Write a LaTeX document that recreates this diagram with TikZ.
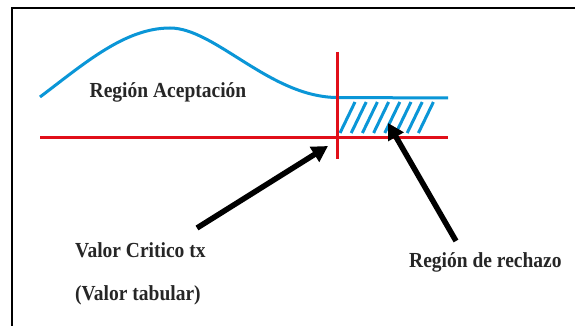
\documentclass[tikz,border=0pt]{standalone}
\usepackage{fontspec}
\setmainfont{Liberation Serif}
\usetikzlibrary{arrows.meta}
\definecolor{curveblue}{RGB}{10,150,215}
\definecolor{axisred}{RGB}{225,15,25}
\newcommand{\tallbox}[1]{\scalebox{1}[1.1]{#1}}
\begin{document}
\begin{tikzpicture}[x=1pt,y=-1pt,
  frame/.style={line width=2.2pt,black},
  curve/.style={line width=3pt,curveblue},
  hatch/.style={line width=3pt,curveblue},
  redline/.style={line width=3pt,axisred},
  pointer/.style={line width=5.5pt,black,-{Triangle[length=16pt,width=17pt]}},
  lbl/.style={font=\fontsize{19.5}{23}\selectfont\bfseries,inner sep=0pt,text=black!85}]
\useasboundingbox (0,0) rectangle (575,326);
\fill[white] (0,0) rectangle (575,326);
% frame
\draw[frame] (12,326) -- (12,8) -- (575,8);
% curve
\draw[curve] (40,97) .. controls (85,63) and (125,28) .. (170,28)
  .. controls (215,28) and (270,97) .. (337,97.5) -- (448,98);
% hatching
\foreach \i in {0,...,7}{
  \draw[hatch] ({340+11.2*\i},133) -- ({355+11.2*\i},102);
}
% axes
\draw[redline] (40,137) -- (448,137);
\draw[redline] (337,52) -- (337,159);
% labels
\node[lbl] (acep) at (168,92) {\tallbox{Región Aceptación}};
\node[lbl,anchor=west] (crit) at (75,250) {\tallbox{Valor Critico tx}};
\node[lbl,anchor=west] (tab) at (75,295) {\tallbox{(Valor tabular)}};
\node[lbl,anchor=west] (rech) at (409,262) {\tallbox{Región de rechazo}};
% arrows
\coordinate (critS) at (197,228);
\coordinate (critT) at (328,146);
\coordinate (rechS) at (456,241);
\coordinate (rechT) at (388,123);
\draw[pointer] (critS) -- (critT);
\draw[pointer] (rechS) -- (rechT);
\end{tikzpicture}
\end{document}
